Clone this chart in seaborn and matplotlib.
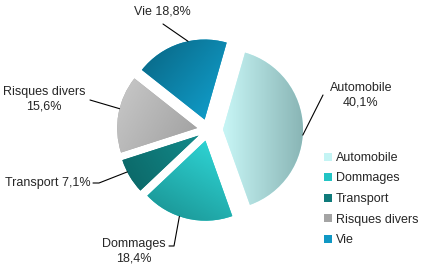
import numpy as np
import matplotlib
matplotlib.use("Agg")
import matplotlib.pyplot as plt
import seaborn as sns
from matplotlib.colors import LinearSegmentedColormap
from matplotlib.patches import Patch

sns.set_theme(style="white")
plt.rcParams['font.family'] = ['Liberation Sans', 'DejaVu Sans']

# ---- data ----
categories = ["Automobile", "Dommages", "Transport", "Risques divers", "Vie"]
shares = [40.1, 18.4, 7.1, 15.6, 18.8]
share_labels = ["40,1%", "18,4%", "7,1%", "15,6%", "18,8%"]
base_colors = ["#c4f4f4", "#22c4c4", "#0f7a7a", "#a4a4a4", "#1098c4"]
grad_stops = [
    ["#e0ffff", "#c8f6f6", "#88b4b4"],
    ["#1c9a9a", "#2ed2d2", "#1e9494"],
    ["#0c6a6a", "#138a8a", "#0c6a6a"],
    ["#c4c4c4", "#a4a4a4", "#747474"],
    ["#0a6e8e", "#109ac6", "#16c0f0"],
]
grad_angles = [0, 60, 30, -30, -40]   # direction of colour change

W, H = 428, 267
fig = plt.figure(figsize=(W / 100, H / 100), dpi=100)
ax = fig.add_axes([0, 0, 1, 1])

def P(px, py):
    return (px, H - py)

cx, cy = P(208, 130)
R = 80
explode = [15, 11, 11, 11, 11]   # offsets in pixel units
start = 74

wedges, _ = ax.pie(shares, colors=base_colors, startangle=start, counterclock=False,
                   explode=explode, radius=R, center=(cx, cy), frame=True)
ax.set_xlim(0, W)
ax.set_ylim(0, H)
ax.set_aspect("equal")
ax.axis("off")

# gradient shading clipped to each wedge
for w, stops, ang in zip(wedges, grad_stops, grad_angles):
    cmap = LinearSegmentedColormap.from_list("g", stops)
    x0, y0 = w.center
    ext = [x0 - R - 2, x0 + R + 2, y0 - R - 2, y0 + R + 2]
    n = 200
    xs = np.linspace(-1, 1, n)
    X, Y = np.meshgrid(xs, xs)
    a = np.deg2rad(ang)
    G = (X * np.cos(a) + Y * np.sin(a) + 1) / 2
    im = ax.imshow(G, extent=ext, origin="lower", cmap=cmap, vmin=0, vmax=1,
                   interpolation="bilinear", zorder=w.get_zorder() + 0.1)
    im.set_clip_path(w)
    w.set_edgecolor("none")
ax.set_xlim(0, W)
ax.set_ylim(0, H)

def rim(i, ang):
    x0, y0 = wedges[i].center
    a = np.deg2rad(ang)
    return (x0 + R * np.cos(a), y0 + R * np.sin(a))

fs = 9
lw = 0.8
# Automobile
p = rim(0, -4)
q = P(323, 95)
ax.plot([p[0], q[0]], [p[1], q[1]], color="black", lw=lw)
ax.text(*P(361, 95), f"{categories[0]}\n{share_labels[0]}", ha="center", va="center",
        fontsize=fs, linespacing=1.3)
# Dommages
p = rim(1, -109)
q1 = P(174, 246)
ax.plot([p[0], q1[0], q1[0] - 5], [p[1], q1[1], q1[1]], color="black", lw=lw)
ax.text(*P(134, 251), f"{categories[1]}\n{share_labels[1]}", ha="center", va="center",
        fontsize=fs, linespacing=1.3)
# Transport
p = rim(2, -153)
q = P(93, 183)
ax.plot([p[0], q[0] + 6, q[0]], [p[1], q[1], q[1]], color="black", lw=lw)
ax.text(*P(91, 183), f"{categories[2]} {share_labels[2]}", ha="right", va="center",
        fontsize=fs)
# Risques divers
p = rim(3, 166)
q = P(90, 100)
ax.plot([p[0], q[0]], [p[1], q[1]], color="black", lw=lw)
ax.text(*P(44, 99), f"{categories[3]}\n{share_labels[3]}", ha="center", va="center",
        fontsize=fs, linespacing=1.3)
# Vie
p = rim(4, 102)
q = P(163, 24)
ax.plot([p[0], q[0]], [p[1], q[1]], color="black", lw=lw)
ax.text(*P(162, 12), f"{categories[4]} {share_labels[4]}", ha="center", va="center",
        fontsize=fs)

handles = [Patch(facecolor=c, edgecolor="none") for c in base_colors]
leg = ax.legend(handles, categories, loc="upper left", bbox_to_anchor=(324 / W, 1 - 152 / H),
                frameon=False, fontsize=fs, handlelength=0.6, handleheight=0.6,
                handletextpad=0.35, labelspacing=0.68, borderpad=0, borderaxespad=0)

fig.savefig("out.png", dpi=100, facecolor="white")
